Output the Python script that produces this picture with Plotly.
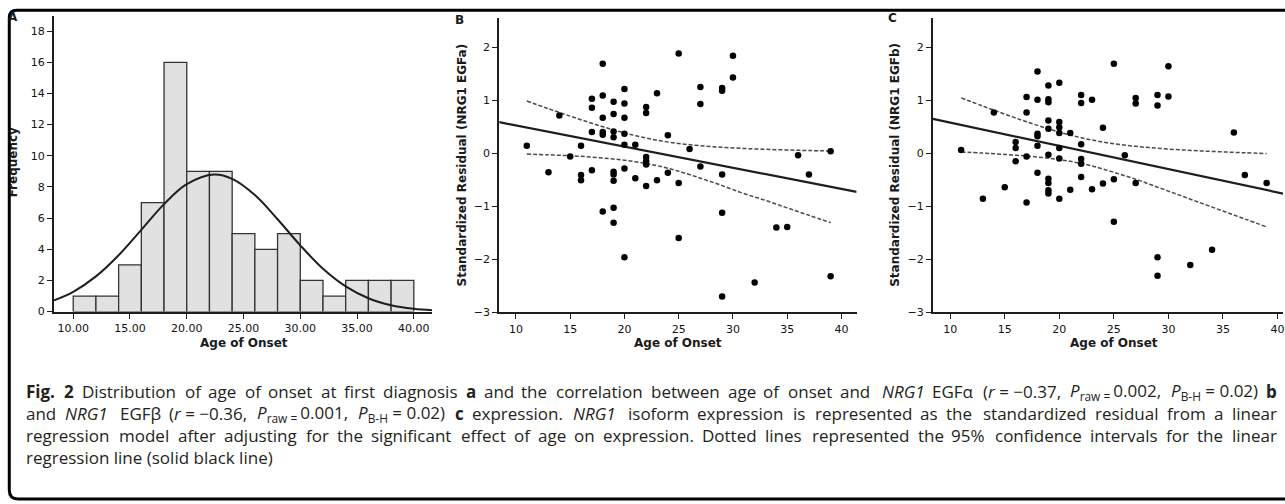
import re
import plotly.graph_objects as go

W, H = 1285, 504

# ---- Panel A: histogram of age of onset ----
bin_centers = [11, 13, 15, 17, 19, 21, 23, 25, 27, 29, 31, 33, 35, 37, 39]
bin_counts = [1, 1, 3, 7, 16, 9, 9, 5, 4, 5, 2, 1, 2, 2, 2]
normal_x = [8.3, 10, 12, 14, 16, 18, 20, 22.4, 24, 26, 28, 30, 32, 34, 36, 38, 40, 41.6]
normal_y = [0.72, 1.27, 2.26, 3.62, 5.25, 6.9, 8.18, 8.8, 8.52, 7.48, 5.93, 4.25, 2.75, 1.62, 0.86, 0.41, 0.18, 0.085]
hist_yticks = [0, 2, 4, 6, 8, 10, 12, 14, 16, 18]
hist_xticks = [10, 15, 20, 25, 30, 35, 40]

# ---- Panel B: NRG1 EGFa standardized residual vs age of onset ----
b_age = [11, 13, 14, 15, 16, 16, 16, 17, 17, 17, 17, 18, 18, 18, 18, 18, 18,
         19, 19, 19, 19, 19, 19, 19, 19, 19, 20, 20, 20, 20, 20, 20, 20, 21, 21,
         22, 22, 22, 22, 22, 22, 23, 23, 24, 24, 25, 25, 25, 26, 27, 27, 27,
         29, 29, 29, 29, 29, 30, 30, 32, 34, 35, 36, 37, 39, 39]
b_resid = [0.14, -0.36, 0.71, -0.06, 0.14, -0.41, -0.51, 1.03, 0.86, 0.40, -0.32,
           1.69, 1.09, 0.67, 0.40, 0.35, -1.10, 0.97, 0.74, 0.41, 0.30, -0.35, -0.40,
           -0.52, -1.03, -1.31, 1.21, 0.94, 0.67, 0.37, 0.16, -0.29, -1.96, 0.16, -0.47,
           0.87, 0.76, -0.07, -0.15, -0.21, -0.62, 1.13, -0.51, 0.34, -0.37, 1.88, -0.56,
           -1.60, 0.08, 1.25, 0.93, -0.25, 1.23, 1.18, -0.40, -1.12, -2.70, 1.84, 1.43,
           -2.44, -1.40, -1.39, -0.04, -0.40, 0.04, -2.32]
b_fit_x = [8.46, 41.4]
b_fit_y = [0.586, -0.728]
ci_x = [11, 13, 15, 17, 19, 21, 23, 25, 27, 29, 31, 33, 35, 37, 39]
b_ci_upper = [0.985, 0.84, 0.70, 0.565, 0.44, 0.333, 0.246, 0.184, 0.142, 0.112, 0.09, 0.074, 0.061, 0.051, 0.042]
b_ci_lower = [-0.015, -0.03, -0.047, -0.073, -0.109, -0.161, -0.234, -0.34, -0.47, -0.61, -0.76, -0.89, -1.03, -1.17, -1.31]

# ---- Panel C: NRG1 EGFb standardized residual vs age of onset ----
c_age = [11, 13, 14, 15, 16, 16, 16, 17, 17, 17, 17, 18, 18, 18, 18, 18, 18,
         19, 19, 19, 19, 19, 19, 19, 19, 19, 19, 20, 20, 20, 20, 20, 20, 20, 21, 21,
         22, 22, 22, 22, 22, 22, 23, 23, 24, 24, 25, 25, 25, 26, 27, 27, 27,
         29, 29, 29, 29, 30, 30, 32, 34, 36, 37, 39]
c_resid = [0.06, -0.86, 0.77, -0.64, 0.21, 0.10, -0.15, 1.06, 0.77, -0.06, -0.93,
           1.54, 1.01, 0.37, 0.32, 0.14, -0.37, 1.28, 1.02, 0.96, 0.62, 0.46, -0.03,
           -0.48, -0.56, -0.70, -0.76, 1.33, 0.59, 0.49, 0.38, 0.10, -0.10, -0.86, 0.38,
           -0.69, 1.10, 0.95, 0.17, -0.11, -0.20, -0.45, 1.01, -0.68, 0.48, -0.57, 1.69,
           -0.49, -1.29, -0.04, 1.04, 0.94, -0.56, 1.10, 0.90, -1.96, -2.31, 1.64, 1.07,
           -2.11, -1.82, 0.39, -0.41, -0.56]
c_fit_x = [8.41, 40.5]
c_fit_y = [0.648, -0.761]
c_ci_upper = [1.044, 0.889, 0.738, 0.594, 0.46, 0.343, 0.249, 0.179, 0.13, 0.094, 0.066, 0.044, 0.025, 0.009, -0.006]
c_ci_lower = [0.024, 0.003, -0.022, -0.052, -0.094, -0.153, -0.24, -0.36, -0.49, -0.64, -0.79, -0.94, -1.09, -1.24, -1.39]
resid_yticks = [-3, -2, -1, 0, 1, 2]
resid_xticks = [10, 15, 20, 25, 30, 35, 40]

# ---- Caption, one list of words per justified line ----
P_RAW = "<i>P</i><sub>raw = </sub>"
P_BH = "<i>P</i><sub>B-H</sub>"
caption_line1 = ["<b>Fig.</b>", "<b>2</b>", "Distribution", "of", "age", "of", "onset", "at",
                 "first", "diagnosis", "<b>a</b>", "and", "the", "correlation", "between",
                 "age", "of", "onset", "and", "<i>NRG1</i>", "EGFα", "(<i>r</i> = −0.37,",
                 P_RAW + "0.002,", P_BH + " = 0.02)", "<b>b</b>"]
caption_line2 = ["and", "<i>NRG1</i>", "EGFβ", "(<i>r</i> = −0.36,", P_RAW + "0.001,",
                 P_BH + " = 0.02)", "<b>c</b>", "expression.", "<i>NRG1</i>", "isoform",
                 "expression", "is", "represented", "as", "the", "standardized", "residual",
                 "from", "a", "linear"]
caption_line3 = ("regression model after adjusting for the significant effect of age on "
                 "expression. Dotted lines represented the 95% confidence intervals for "
                 "the linear").split()
caption_line4 = "regression line (solid black line)"


def px(x):
    return x / W


def py(y):
    return 1 - y / H


INK = "#1e1e1e"
TICK_FONT = dict(family="DejaVu Sans", size=11, color="#111111")
TITLE_FONT = dict(family="DejaVu Sans", size=12, color="#1a1a1a")

fig = go.Figure()

# histogram bars
fig.add_trace(go.Bar(
    x=bin_centers, y=bin_counts, width=2,
    marker=dict(color="#e1e1e1", line=dict(color="#333333", width=1.3)),
    xaxis="x", yaxis="y", showlegend=False, hoverinfo="skip"))
# fitted normal curve
fig.add_trace(go.Scatter(
    x=normal_x, y=normal_y, mode="lines", line=dict(color=INK, width=2, shape="spline"),
    xaxis="x", yaxis="y", showlegend=False, hoverinfo="skip"))
# invisible trace that carries the rotated "Frequency" label axis
fig.add_trace(go.Scatter(x=[20], y=[5], mode="markers", marker=dict(opacity=0),
                         xaxis="x", yaxis="y4", showlegend=False, hoverinfo="skip"))

for xa, ya, ages, resid, fx, fy, up, lo in [
    ("x2", "y2", b_age, b_resid, b_fit_x, b_fit_y, b_ci_upper, b_ci_lower),
    ("x3", "y3", c_age, c_resid, c_fit_x, c_fit_y, c_ci_upper, c_ci_lower),
]:
    for band in (up, lo):
        fig.add_trace(go.Scatter(
            x=ci_x, y=band, mode="lines",
            line=dict(color="#4a4a4a", width=1.5, dash="4px,2px", shape="spline"),
            xaxis=xa, yaxis=ya, showlegend=False, hoverinfo="skip"))
    fig.add_trace(go.Scatter(
        x=fx, y=fy, mode="lines", line=dict(color=INK, width=2.2),
        xaxis=xa, yaxis=ya, showlegend=False, hoverinfo="skip"))
    fig.add_trace(go.Scatter(
        x=ages, y=resid, mode="markers",
        marker=dict(color="#000000", size=6.5, line=dict(width=0)),
        xaxis=xa, yaxis=ya, showlegend=False, cliponaxis=False))

axis_common = dict(showgrid=False, zeroline=False, showline=True, linecolor=INK,
                   linewidth=2, ticks="outside", ticklen=5, tickwidth=1,
                   tickcolor=INK, tickfont=TICK_FONT, ticklabeloverflow="allow")

fig.update_layout(
    width=W, height=H,
    margin=dict(l=0, r=0, t=0, b=0),
    paper_bgcolor="white", plot_bgcolor="white",
    xaxis=dict(domain=[px(54), px(433)], range=[8.30, 41.63], anchor="y",
               tickvals=hist_xticks, tickformat=".2f", **axis_common),
    yaxis=dict(domain=[py(316), py(16.7)], range=[0, 18.94], anchor="x",
               tickvals=hist_yticks, **axis_common),
    yaxis4=dict(overlaying="y", anchor="free", position=px(19.5), side="left",
                range=[0, 18.94], showline=False, showgrid=False, zeroline=False,
                ticks="", tickvals=[9.47], ticktext=["<b>Frequency</b>"],
                tickangle=-90, tickfont=TITLE_FONT),
    xaxis2=dict(domain=[px(500), px(858)], range=[8.46, 41.4], anchor="y2",
                tickvals=resid_xticks, **axis_common),
    yaxis2=dict(domain=[py(316.7), py(18.3)], range=[-3, 2.55], anchor="x2",
                tickvals=resid_yticks, **axis_common),
    xaxis3=dict(domain=[px(934.3), 1.0], range=[8.41, 40.5], anchor="y3",
                tickvals=resid_xticks, **axis_common),
    yaxis3=dict(domain=[py(316.7), py(18.3)], range=[-3, 2.55], anchor="x3",
                tickvals=resid_yticks, **axis_common),
)

annotations = []


def label(text, x, y, angle=0, font=TITLE_FONT, xanchor="center"):
    annotations.append(dict(text=text, x=px(x), y=py(y), xref="paper", yref="paper",
                            showarrow=False, textangle=angle, font=font, borderpad=0,
                            xanchor=xanchor, yanchor="middle"))


# axis titles
label("<b>Age of Onset</b>", 244, 348)
label("<b>Age of Onset</b>", 679, 348)
label("<b>Age of Onset</b>", 1116, 348)
label("<b>Standardized Residual (NRG1 EGFa)</b>", 462.5, 167, angle=-90)
label("<b>Standardized Residual (NRG1 EGFb)</b>", 896.5, 167, angle=-90)

# panel letters
label("<b>A</b>", 13.5, 17.5)
label("<b>B</b>", 460, 20)
label("<b>C</b>", 894, 18.5)

# ---- justified caption ----
CAP_SIZE = 17
CAP_FONT = dict(family="Open Sans", size=CAP_SIZE, color="#231f20")
CAP_LEFT, CAP_RIGHT = 25, 1280

# approximate Open Sans advance widths (em)
ADV = {" ": .26, "a": .556, "b": .613, "c": .476, "d": .613, "e": .561, "f": .339,
       "g": .548, "h": .614, "i": .253, "j": .253, "k": .525, "l": .253, "m": .93,
       "n": .614, "o": .604, "p": .613, "q": .613, "r": .408, "s": .477, "t": .353,
       "u": .614, "v": .501, "w": .778, "x": .524, "y": .502, "z": .477, "A": .633,
       "B": .648, "C": .631, "D": .729, "E": .556, "F": .519, "G": .728, "H": .742,
       "I": .281, "N": .781, "P": .595, "R": .627, ".": .266, ",": .245, "(": .297,
       ")": .297, "=": .572, "−": .572, "-": .322, "%": .831, "α": .61, "β": .62}


def word_width(tok):
    bold = sub = False
    w = 0.0
    for part in re.split(r"(<[^>]+>)", tok):
        if part.startswith("<"):
            tag = part.strip("<>/")
            on = not part.startswith("</")
            if tag == "b":
                bold = on
            elif tag == "sub":
                sub = on
            continue
        for ch in part:
            cw = ADV.get(ch, .572 if ch.isdigit() else .55)
            w += cw * (0.7 if sub else 1.0) * (1.1 if bold else 1.0)
    return w * CAP_SIZE * 1.02


caption_y = [397, 419.5, 442, 464]
for words, yy in zip([caption_line1, caption_line2, caption_line3], caption_y):
    widths = [word_width(t) for t in words]
    gap = (CAP_RIGHT - CAP_LEFT - sum(widths)) / (len(words) - 1)
    half = len(words) // 2
    for i, t in enumerate(words):
        if i < half:
            x = CAP_LEFT + sum(widths[:i]) + i * gap
            label(t, x, yy, font=CAP_FONT, xanchor="left")
        else:
            x = CAP_RIGHT - sum(widths[i + 1:]) - (len(words) - 1 - i) * gap
            label(t, x, yy, font=CAP_FONT, xanchor="right")
label(caption_line4, CAP_LEFT, caption_y[3], font=CAP_FONT, xanchor="left")

fig.update_layout(annotations=annotations)

# white mask left of the frame, then the rounded frame itself
fig.add_shape(type="rect", xref="paper", yref="paper", layer="above",
              x0=0, x1=px(8), y0=py(240), y1=py(100),
              fillcolor="white", line=dict(width=0))


def pt(x, y):
    return f"{px(x):.5f},{py(y):.5f}"


frame_path = ("M " + pt(1300, 10.5) + " L " + pt(17, 10.5) + " Q " + pt(9.3, 10.5) + " "
              + pt(9.3, 18) + " L " + pt(9.3, 497) + " Q " + pt(9.3, 506) + " "
              + pt(18, 506) + " L " + pt(1300, 506))
fig.add_shape(type="path", path=frame_path, xref="paper", yref="paper", layer="above",
              line=dict(color="#000000", width=3))

fig.write_html("out.html")
